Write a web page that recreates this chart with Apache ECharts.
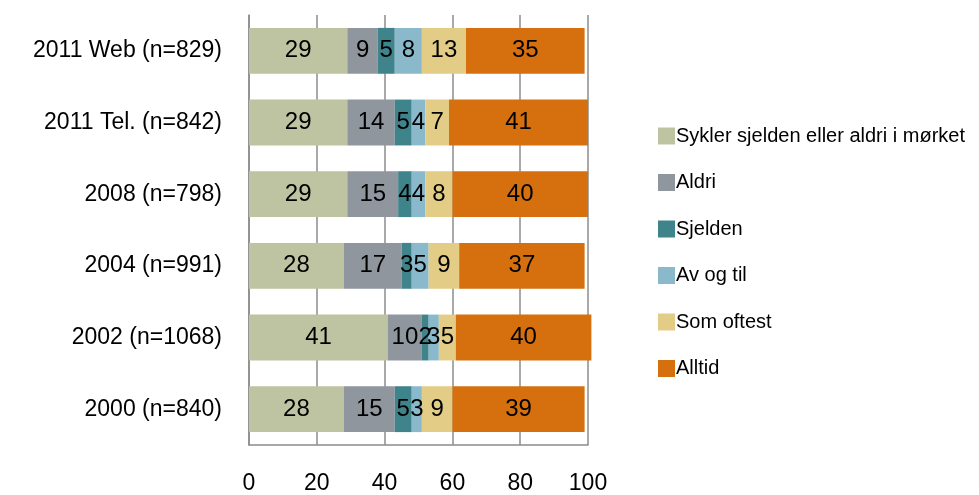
<!DOCTYPE html>
<html><head><meta charset="utf-8">
<script src="https://cdn.jsdelivr.net/npm/echarts@6/dist/echarts.min.js"></script>
<style>html,body{margin:0;padding:0;background:#fff}#c{width:979px;height:495px}</style>
</head><body><div id="c"></div>
<script>
var categories = ['2000 (n=840)','2002 (n=1068)','2004 (n=991)','2008 (n=798)','2011 Tel. (n=842)','2011 Web (n=829)'];
var seriesNames = ['Sykler sjelden eller aldri i mørket','Aldri','Sjelden','Av og til','Som oftest','Alltid'];
var sjeldenAldriMorket = [28, 41, 28, 29, 29, 29];
var aldri = [15, 10, 17, 15, 14, 9];
var sjelden = [5, 2, 3, 4, 5, 5];
var avOgTil = [3, 3, 5, 4, 4, 8];
var somOftest = [9, 5, 9, 8, 7, 13];
var alltid = [39, 40, 37, 40, 41, 35];
var xTicks = [0, 20, 40, 60, 80, 100];
var colors = ['#BEC4A1','#8F969E','#3F838B','#8AB9CC','#E3CC85','#D6700F'];

var values = [sjeldenAldriMorket, aldri, sjelden, avOgTil, somOftest, alltid];
var font = 'Liberation Sans, Arial, sans-serif';
var chart = echarts.init(document.getElementById('c'));
chart.setOption({
  animation: false,
  textStyle: {fontFamily: font},
  grid: {left: 249, top: 15, width: 339, height: 431, containLabel: false},
  legend: {
    orient: 'vertical', left: 653, top: 121,
    itemWidth: 17, itemHeight: 17, itemGap: 26.5,
    icon: 'rect',
    data: seriesNames,
    textStyle: {fontFamily: font, fontSize: 20, color: '#000', padding: [0,0,0,-4]}
  },
  xAxis: {
    type: 'value', min: xTicks[0], max: xTicks[xTicks.length-1], interval: 20,
    axisLine: {show: true, lineStyle: {color: '#8c8c8c', width: 1.5}},
    axisTick: {show: false},
    splitLine: {show: true, lineStyle: {color: '#8c8c8c', width: 1.5}},
    axisLabel: {fontFamily: font, fontSize: 23, color: '#000', margin: 27}
  },
  yAxis: {
    type: 'category', data: categories,
    axisLine: {show: true, lineStyle: {color: '#8c8c8c', width: 1.5}},
    axisTick: {show: false},
    axisLabel: {fontFamily: font, fontSize: 23, color: '#000', margin: 27}
  },
  series: seriesNames.map(function (n, i) {
    return {
      name: n, type: 'bar', stack: 'total', data: values[i],
      barCategoryGap: '36%', clip: false,
      itemStyle: {color: colors[i]},
      label: {show: true, position: 'inside', color: '#000', fontFamily: font, fontSize: 24},
      labelLayout: {hideOverlap: false}
    };
  })
});
</script></body></html>
